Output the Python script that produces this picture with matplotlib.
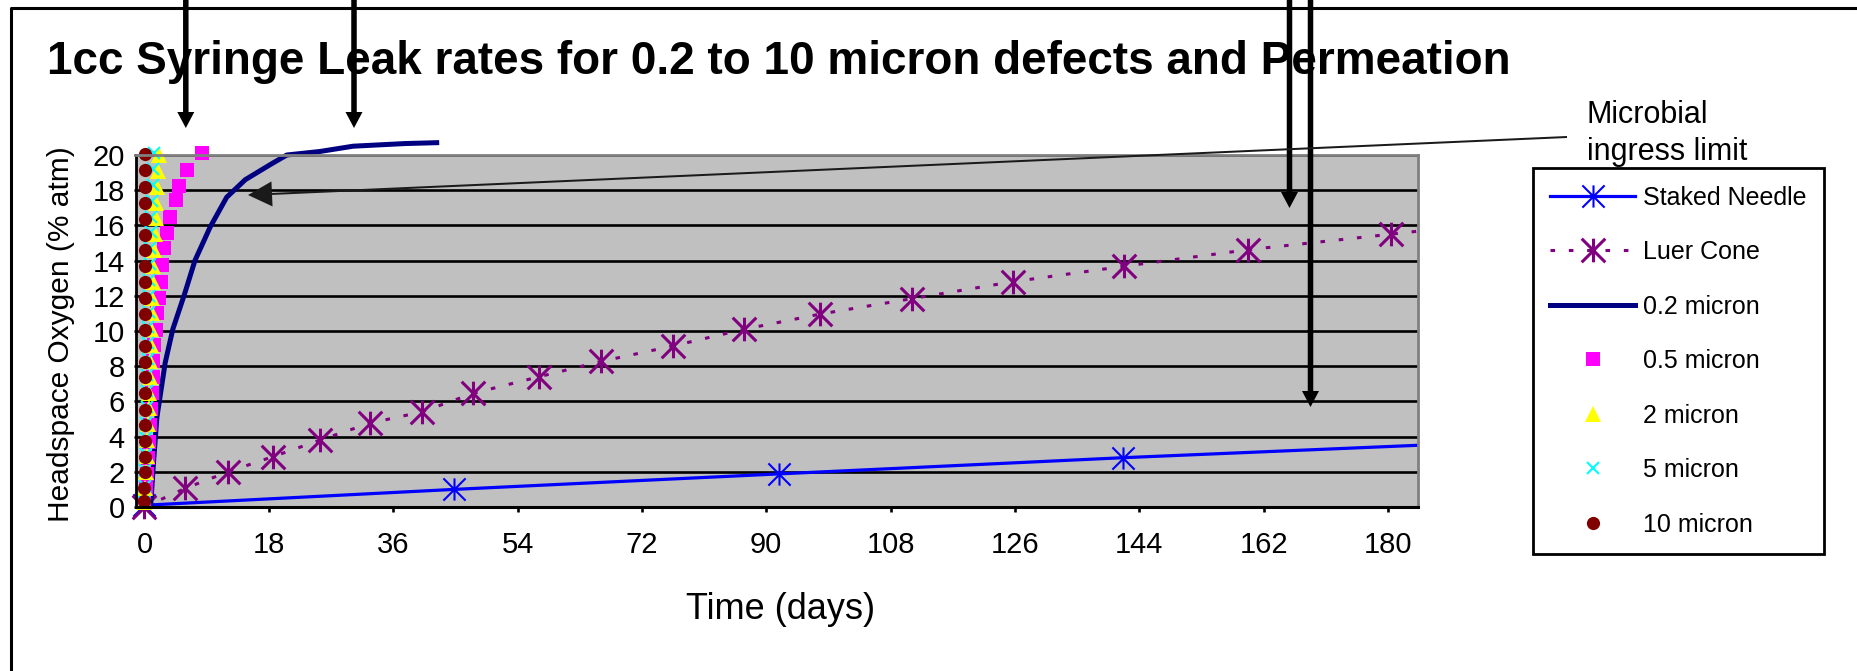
import matplotlib
matplotlib.use("Agg")
import matplotlib.pyplot as plt
from matplotlib.path import Path
from matplotlib.patches import FancyArrow, Rectangle
from matplotlib.lines import Line2D
from matplotlib.transforms import IdentityTransform

plt.rcParams['font.family'] = ['Liberation Sans', 'DejaVu Sans']

# ---- data (time in days, headspace O2 in % atm) ----
staked_t = [0, 44.8, 91.8, 141.6, 190.0]
staked_o2 = [0.1, 1.0, 1.88, 2.8, 3.6]

luer_t = [0, 5.9, 12.1, 18.6, 25.4, 32.6, 40.1, 47.6, 57.1, 66.1, 76.5, 86.8,
          97.8, 111.1, 125.7, 141.8, 159.8, 180.4, 201.0]
luer_o2 = [0, 1.06, 2.0, 2.86, 3.8, 4.76, 5.4, 6.46, 7.4, 8.27, 9.15, 10.1,
           10.96, 11.84, 12.8, 13.68, 14.62, 15.5, 16.4]

m02_t = [0.9, 1.3, 1.8, 3.0, 4.1, 5.8, 7.3, 9.5, 11.9, 14.6, 18.4, 20.6,
         25.4, 30.2, 37.7, 42.3]
m02_o2 = [0.1, 2.5, 5.1, 8.2, 10.1, 12.1, 14.0, 15.9, 17.6, 18.6, 19.5, 20.0,
          20.2, 20.5, 20.65, 20.7]

m05_t = [0.0, 0.2, 0.35, 0.5, 0.6, 0.75, 0.95, 1.1, 1.2, 1.3, 1.45, 1.6, 1.8,
         2.1, 2.35, 2.5, 2.8, 3.3, 3.75, 4.5, 5.0, 6.2, 8.3]
m05_o2 = [0.2, 1.1, 1.9, 2.8, 3.7, 4.65, 5.55, 6.5, 7.4, 8.3, 9.2, 10.06, 11.0,
          11.86, 12.8, 13.75, 14.7, 15.55, 16.46, 17.44, 18.24, 19.15, 20.1]

m2_t = [0.0, 0.1, 0.2, 0.3, 0.4, 0.5, 0.6, 0.7, 0.8, 0.85, 0.9, 1.0, 1.05,
        1.1, 1.2, 1.3, 1.4, 1.5, 1.6, 1.7, 1.8, 1.9, 2.1]
m2_o2 = [0.3, 1.1, 2.0, 2.9, 3.8, 4.7, 5.6, 6.5, 7.4, 8.3, 9.2, 10.1, 11.0,
         11.9, 12.8, 13.7, 14.6, 15.5, 16.4, 17.3, 18.2, 19.1, 20.0]

m5_t = [0.0, 0.05, 0.1, 0.15, 0.2, 0.25, 0.3, 0.35, 0.4, 0.45, 0.5, 0.55, 0.6,
        0.65, 0.7, 0.75, 0.8, 0.9, 1.0, 1.1, 1.2, 1.3, 1.4]
m5_o2 = [0.3, 1.2, 2.1, 3.0, 3.9, 4.8, 5.7, 6.6, 7.5, 8.4, 9.3, 10.2, 11.1,
         12.0, 12.9, 13.8, 14.7, 15.6, 16.5, 17.4, 18.3, 19.2, 20.1]

m10_t = [0.0, 0.0, 0.01, 0.01, 0.02, 0.02, 0.03, 0.03, 0.04, 0.04, 0.05, 0.05,
         0.06, 0.06, 0.07, 0.07, 0.08, 0.08, 0.09, 0.09, 0.1, 0.1, 0.1]
m10_o2 = [0.36, 1.06, 1.97, 2.84, 3.77, 4.66, 5.51, 6.46, 7.37, 8.26, 9.17,
          10.06, 10.97, 11.85, 12.8, 13.7, 14.6, 15.45, 16.36, 17.26, 18.2,
          19.15, 20.06]

x_ticks = [0, 18, 36, 54, 72, 90, 108, 126, 144, 162, 180]
y_ticks = [0, 2, 4, 6, 8, 10, 12, 14, 16, 18, 20]

title = "1cc Syringe Leak rates for 0.2 to 10 micron defects and Permeation"

# ---- layout (pixels of the 1858x671 picture, y measured from the top) ----
W, H = 1858, 671
fig = plt.figure(figsize=(W / 100, H / 100), dpi=100)
ax = fig.add_axes([135.5 / W, (H - 507) / H, (1417.7 - 135.5) / W, 352 / H])
ax.set_facecolor('#C0C0C0')
ax.set_xlim(-1.3, 184.3)
ax.set_ylim(0, 20)

star = Path([(-1, -1), (1, 1), (-1, 1), (1, -1), (0, -1), (0, 1)],
            [Path.MOVETO, Path.LINETO, Path.MOVETO, Path.LINETO,
             Path.MOVETO, Path.LINETO])

clip = Rectangle((-0.1, -0.1), 1.1, 1.2, transform=ax.transAxes)

l1, = ax.plot(staked_t, staked_o2, color='#0000FF', lw=2.3, marker=star,
              ms=16, mew=1.5, mfc='none', label='Staked Needle')
l1.set_clip_path(clip)
l2, = ax.plot(luer_t, luer_o2, color='#800080', lw=2.2, ls=(0, (1.5, 4.5)),
              marker=star, ms=17, mew=2.2, mfc='none', label='Luer Cone')
l2.set_clip_path(clip)
ax.plot(m02_t, m02_o2, color='#000080', lw=3.6, label='0.2 micron',
        clip_on=False)
ax.plot(m05_t, m05_o2, ls='none', marker='s', ms=9.5, mew=0,
        color='#FF00FF', label='0.5 micron', clip_on=False)
ax.plot(m2_t, m2_o2, ls='none', marker='^', ms=11, mew=0,
        color='#FFFF00', label='2 micron', clip_on=False)
ax.plot(m5_t, m5_o2, ls='none', marker='x', ms=9, mew=1.5,
        color='#00FFFF', label='5 micron', clip_on=False)
ax.plot(m10_t, m10_o2, ls='none', marker='o', ms=9.5, mew=0,
        color='#800000', label='10 micron', clip_on=False)

ax.set_xticks(x_ticks)
ax.set_yticks(y_ticks)
ax.set_axisbelow(True)
ax.yaxis.grid(True, color='black', lw=1.9)
ax.tick_params(axis='x', direction='out', length=3.5, width=1.9, pad=13.8,
               labelsize=21)
ax.tick_params(axis='y', direction='out', length=1.8, width=1.9, pad=5.8,
               labelsize=21)
for side in ['top', 'right']:
    ax.spines[side].set_color('#808080')
    ax.spines[side].set_linewidth(2)
ax.spines['bottom'].set_linewidth(2.2)
ax.spines['left'].set_linewidth(2.0)

ax.set_xlabel("Time (days)", fontsize=26)
ax.xaxis.set_label_coords(0.5034, -0.2415)
ax.set_ylabel("Headspace Oxygen (% atm)", fontsize=21.5)
ax.yaxis.set_label_coords(-0.047, 0.49)

leg = ax.legend(loc='upper left', bbox_to_anchor=(1533 / W, 1 - 168 / H),
                bbox_transform=fig.transFigure, borderaxespad=0, fontsize=18,
                handlelength=3.4, handletextpad=0.3, labelspacing=1.22,
                borderpad=0.7, fancybox=False, edgecolor='black',
                framealpha=1, numpoints=1)
leg.get_frame().set_linewidth(2)

fig.text(47 / W, 1 - 74 / H, title, ha='left', va='baseline', fontsize=33,
         fontweight='bold')
fig.text(1587 / W, 1 - 100 / H, "Microbial\ningress limit", ha='left',
         va='top', fontsize=22, linespacing=1.3)

# vertical pointer arrows coming in from the top edge
for x, tip in [(185.8, 128), (354, 128), (1289.5, 208), (1310.5, 407)]:
    y0 = H + 5
    fig.add_artist(FancyArrow(x, y0, 0, (H - tip) - y0, width=5.5,
                              head_width=17, head_length=16,
                              length_includes_head=True, color='black',
                              lw=0, transform=IdentityTransform()))

# microbial ingress limit pointer
fig.add_artist(FancyArrow(1567, H - 137, 248 - 1567, (H - 195) - (H - 137),
                          width=2, head_width=25, head_length=24,
                          length_includes_head=True, color='#1a1a1a', lw=0,
                          transform=IdentityTransform()))

# chart area border (left and top visible)
fig.add_artist(Line2D([11.3 / W, 11.3 / W, 1.01],
                      [-0.01, 1 - 7.5 / H, 1 - 7.5 / H],
                      transform=fig.transFigure, color='black', lw=2.2))

fig.savefig("out.png", dpi=100)
